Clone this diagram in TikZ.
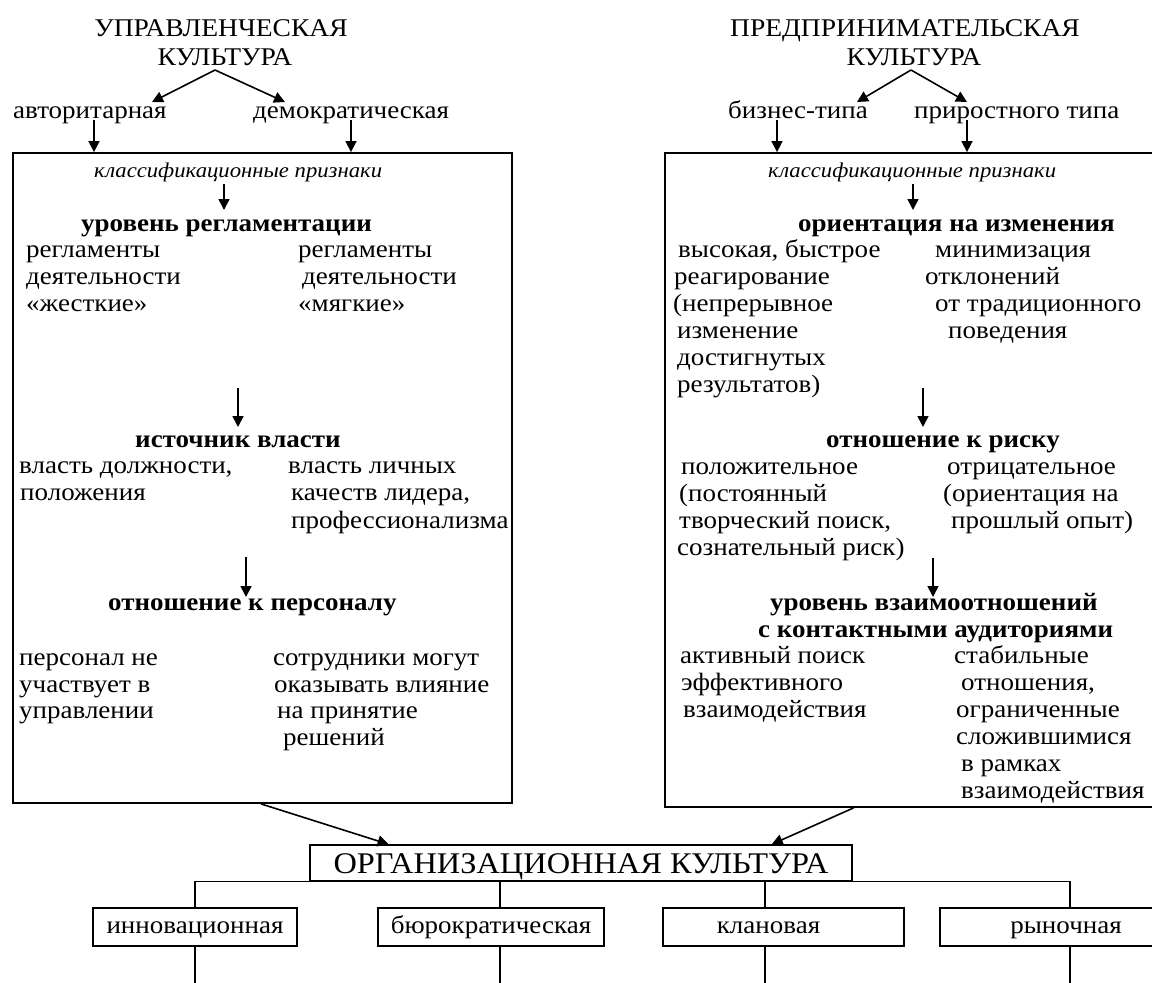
\documentclass[tikz,border=0pt]{standalone}
\usepackage{fontspec}
\setmainfont{Liberation Serif}[FakeStretch=1.08]
\usetikzlibrary{arrows.meta,calc}
\begin{document}
\begin{tikzpicture}[x=1pt,y=-1pt,
  t/.style={anchor=base west,inner sep=0pt,font=\fontsize{25}{27}\selectfont},
  tb/.style={anchor=base west,inner sep=0pt,font=\fontsize{25}{27}\selectfont\bfseries},
  ti/.style={anchor=base west,inner sep=0pt,font=\fontsize{21}{24}\selectfont\itshape},
  ttl/.style={anchor=base,inner sep=0pt,font=\fontsize{25.5}{28}\selectfont},
  arr/.style={-{Triangle[length=11pt,width=11pt]},line width=1.6pt},
  bigbox/.style={draw,line width=1.8pt,inner sep=0pt},
  cbox/.style={draw,line width=1.4pt,inner sep=0pt,text height=12pt,text depth=0pt,font=\fontsize{25}{28}\selectfont},
  tree/.style={line width=1.1pt}
]
\useasboundingbox (0,0) rectangle (1152,983);
\clip (0,0) rectangle (1152,983);

% big boxes
\node[bigbox,minimum width=499pt,minimum height=650pt] (lbox) at (262.5,478) {};
\node[bigbox,minimum width=535pt,minimum height=654pt] (rbox) at (932.5,480) {};

% ---------- left part ----------
\node[ttl] (tl1) at (221,36) {УПРАВЛЕНЧЕСКАЯ};
\node[ttl] (tl2) at (225,65) {КУЛЬТУРА};
\node[t] (avt) at (13,118) {авторитарная};
\node[t] (dem) at (253,118) {демократическая};
\coordinate (apL) at (215,70);
\coordinate (avtT) at (152,102);
\coordinate (demT) at (285,102);
\draw[arr] (apL) -- (avtT);
\draw[arr] (apL) -- (demT);
\coordinate (avtB) at (94,120);
\coordinate (demB) at (351,120);
\draw[arr] (avtB) -- (avtB |- lbox.north);
\draw[arr] (demB) -- (demB |- lbox.north);

\node[ti] (cls1) at (94,177) {классификационные признаки};
\coordinate (la1) at (224,184);
\coordinate (la1e) at (224,210);
\draw[arr] (la1) -- (la1e);
\node[tb] (h1) at (81,231) {уровень регламентации};
\node[t] (l1a) at (26,257) {регламенты};
\node[t] (l1b) at (26,284) {деятельности};
\node[t] (l1c) at (26,311) {«жесткие»};
\node[t] (r1a) at (298,257) {регламенты};
\node[t] (r1b) at (302,284) {деятельности};
\node[t] (r1c) at (298,311) {«мягкие»};

\coordinate (la2) at (238,388);
\coordinate (la2e) at (238,427);
\draw[arr] (la2) -- (la2e);
\node[tb] (h2) at (135,447) {источник власти};
\node[t] (l2a) at (19,473) {власть должности,};
\node[t] (l2b) at (20,500) {положения};
\node[t] (r2a) at (288,473) {власть личных};
\node[t] (r2b) at (291,500) {качеств лидера,};
\node[t] (r2c) at (291,528) {профессионализма};

\coordinate (la3) at (246,557);
\coordinate (la3e) at (246,597);
\draw[arr] (la3) -- (la3e);
\node[tb] (h3) at (108,610) {отношение к персоналу};
\node[t] (l3a) at (19,665) {персонал не};
\node[t] (l3b) at (19,692) {участвует в};
\node[t] (l3c) at (19,718) {управлении};
\node[t] (r3a) at (273,665) {сотрудники могут};
\node[t] (r3b) at (274,692) {оказывать влияние};
\node[t] (r3c) at (277,718) {на принятие};
\node[t] (r3d) at (283,745) {решений};

% ---------- right part ----------
\node[ttl] (tr1) at (905,36) {ПРЕДПРИНИМАТЕЛЬСКАЯ};
\node[ttl] (tr2) at (914,65) {КУЛЬТУРА};
\node[t] (biz) at (728,118) {бизнес-типа};
\node[t] (pri) at (914,118) {приростного типа};
\coordinate (apR) at (911,70);
\coordinate (bizT) at (857,102);
\coordinate (priT) at (967,102);
\draw[arr] (apR) -- (bizT);
\draw[arr] (apR) -- (priT);
\coordinate (bizB) at (777,120);
\coordinate (priB) at (967,120);
\draw[arr] (bizB) -- (bizB |- rbox.north);
\draw[arr] (priB) -- (priB |- rbox.north);

\node[ti] (cls2) at (768,177) {классификационные признаки};
\coordinate (ra1) at (913,184);
\coordinate (ra1e) at (913,210);
\draw[arr] (ra1) -- (ra1e);
\node[tb] (h4) at (798,231) {ориентация на изменения};
\node[t] (a1) at (678,257) {высокая, быстрое};
\node[t] (a2) at (674,284) {реагирование};
\node[t] (a3) at (673,311) {(непрерывное};
\node[t] (a4) at (677,338) {изменение};
\node[t] (a5) at (677,365) {достигнутых};
\node[t] (a6) at (677,392) {результатов)};
\node[t] (b1) at (935,257) {минимизация};
\node[t] (b2) at (925,284) {отклонений};
\node[t] (b3) at (935,311) {от традиционного};
\node[t] (b4) at (948,338) {поведения};

\coordinate (ra2) at (923,388);
\coordinate (ra2e) at (923,427);
\draw[arr] (ra2) -- (ra2e);
\node[tb] (h5) at (826,447) {отношение к риску};
\node[t] (c1) at (681,474) {положительное};
\node[t] (c2) at (679,501) {(постоянный};
\node[t] (c3) at (679,528) {творческий поиск,};
\node[t] (c4) at (677,555) {сознательный риск)};
\node[t] (d1) at (947,474) {отрицательное};
\node[t] (d2) at (943,501) {(ориентация на};
\node[t] (d3) at (951,528) {прошлый опыт)};

\coordinate (ra3) at (933,558);
\coordinate (ra3e) at (933,597);
\draw[arr] (ra3) -- (ra3e);
\node[tb] (h6a) at (770,610) {уровень взаимоотношений};
\node[tb] (h6b) at (758,637) {с контактными аудиториями};
\node[t] (e1) at (680,663) {активный поиск};
\node[t] (e2) at (681,690) {эффективного};
\node[t] (e3) at (683,717) {взаимодействия};
\node[t] (f1) at (954,663) {стабильные};
\node[t] (f2) at (961,690) {отношения,};
\node[t] (f3) at (956,717) {ограниченные};
\node[t] (f4) at (956,744) {сложившимися};
\node[t] (f5) at (961,771) {в рамках};
\node[t] (f6) at (961,798) {взаимодействия};

% ---------- bottom ----------
\node[draw,line width=1.4pt,inner sep=0pt,minimum width=542pt,minimum height=36pt,
      text height=20pt,text depth=0pt,font=\fontsize{30}{32}\selectfont] (org) at (581,863) {ОРГАНИЗАЦИОННАЯ КУЛЬТУРА};

\draw[arr] ($(lbox.south west)!0.497!(lbox.south east)$) -- ($(org.north west)!0.146!(org.north east)$);
\draw[arr] ($(rbox.south west)!0.353!(rbox.south east)$) -- ($(org.north west)!0.851!(org.north east)$);

\node[cbox,minimum width=204pt,minimum height=38pt] (inn) at (195,927) {инновационная};
\node[cbox,minimum width=226pt,minimum height=38pt] (bur) at (491,927) {бюрократическая};
\node[cbox,minimum width=241pt,minimum height=38pt] (kla) at (783.5,927) {\hspace*{-30pt}клановая};
\node[cbox,minimum width=252pt,minimum height=38pt] (ryn) at (1066,927) {рыночная};

\coordinate (v1) at (195,0);
\coordinate (v2) at (500,0);
\coordinate (v3) at (765,0);
\coordinate (v4) at (1070,0);
\coordinate (bot) at (0,990);
\draw[tree] (v1 |- inn.north) -- (v1 |- org.south) -- (v4 |- org.south) -- (v4 |- ryn.north);
\draw[tree] (v2 |- org.south) -- (v2 |- bur.north);
\draw[tree] (v3 |- org.south) -- (v3 |- kla.north);
\draw[tree] (v1 |- inn.south) -- (v1 |- bot);
\draw[tree] (v2 |- bur.south) -- (v2 |- bot);
\draw[tree] (v3 |- kla.south) -- (v3 |- bot);
\draw[tree] (v4 |- ryn.south) -- (v4 |- bot);
\end{tikzpicture}
\end{document}
